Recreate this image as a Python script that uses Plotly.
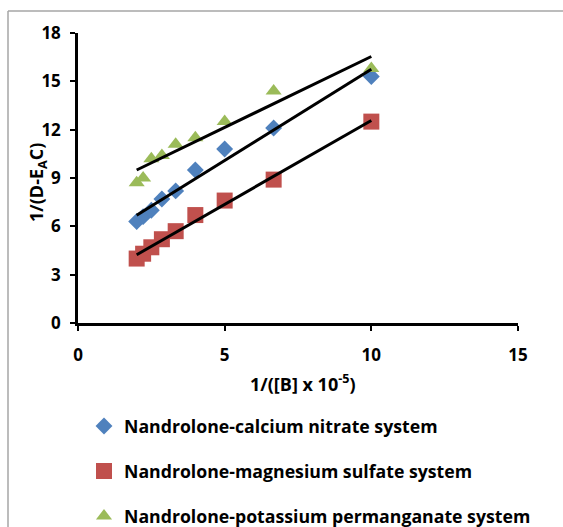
import numpy as np
import plotly.graph_objects as go

x_vals = [2.0, 2.22, 2.5, 2.86, 3.33, 4.0, 5.0, 6.67, 10.0]
calcium = [6.3, 6.6, 7.0, 7.7, 8.2, 9.5, 10.8, 12.1, 15.3]
magnesium = [4.0, 4.3, 4.7, 5.2, 5.7, 6.7, 7.6, 8.9, 12.5]
potassium = [8.7, 9.0, 10.2, 10.4, 11.1, 11.5, 12.5, 14.4, 15.8]
names = ["Nandrolone-calcium nitrate system",
         "Nandrolone-magnesium sulfate system",
         "Nandrolone-potassium permanganate system"]
colors = ["#4F81BD", "#C0504D", "#9BBB59"]
symbols = ["diamond", "square", "triangle-up"]
sizes = [13, 16, 14]
x_ticks = [0, 5, 10, 15]
y_ticks = [0, 3, 6, 9, 12, 15, 18]

FONT = "Open Sans"
fig = go.Figure()
for i, ys in enumerate([calcium, magnesium, potassium]):
    fig.add_trace(go.Scatter(x=x_vals, y=ys, mode="markers", name=names[i],
                             legendgroup=str(i),
                             marker=dict(symbol=symbols[i], size=sizes[i], color=colors[i])))
for i, ys in enumerate([calcium, magnesium, potassium]):
    m, b = np.polyfit(x_vals, ys, 1)
    xl = [min(x_vals), max(x_vals)]
    fig.add_trace(go.Scatter(x=xl, y=[m * v + b for v in xl], mode="lines",
                             line=dict(color="black", width=3), showlegend=False,
                             hoverinfo="skip"))

axis_common = dict(showline=True, linecolor="black", linewidth=2.5, ticks="outside",
                   ticklen=5, tickwidth=1.5, tickcolor="black", showgrid=False,
                   zeroline=False, tickfont=dict(family=FONT, size=17, color="black", weight="bold"))
PW, PH = 440, 290
L, T = 78, 33
fig.update_layout(
    width=563, height=527,
    margin=dict(l=L, r=45, t=T, b=204, autoexpand=False),
    paper_bgcolor="white", plot_bgcolor="white",
    font=dict(family=FONT, color="black"),
    xaxis=dict(range=[0, 15], tickvals=x_ticks, ticklabelstandoff=10, **axis_common),
    yaxis=dict(range=[0, 18], tickvals=y_ticks, ticklabelstandoff=6, **axis_common),
    legend=dict(x=(84 - L) / PW, y=(T + PH - 408) / PH,
                xanchor="left", yanchor="top", tracegroupgap=19,
                font=dict(family=FONT, size=17.7, color="black", weight="bold"),
                bgcolor="rgba(0,0,0,0)"),
    annotations=[
        dict(text="<b>1/([B] x 10<sup>-5</sup>)</b>", xref="paper", yref="paper",
             x=(303 - L) / PW, y=(T + PH - 383) / PH, xanchor="center", yanchor="middle",
             showarrow=False, font=dict(size=18, color="black")),
        dict(text="<b>1/(D-E<sub>A</sub>C)</b>", xref="paper", yref="paper",
             x=(38 - L) / PW, y=(T + PH - 183) / PH, xanchor="center", yanchor="middle",
             textangle=-90, showarrow=False, font=dict(size=18, color="black")),
    ],
    shapes=[
        dict(type="line", xref="paper", yref="paper", x0=(8 - L) / PW, x1=(563 - L) / PW,
             y0=(T + PH - 11) / PH, y1=(T + PH - 11) / PH, line=dict(color="#A6A6A6", width=1.5)),
        dict(type="line", xref="paper", yref="paper", x0=(8 - L) / PW, x1=(8 - L) / PW,
             y0=(T + PH - 11) / PH, y1=(T + PH - 527) / PH, line=dict(color="#A6A6A6", width=1.5)),
    ],
)
fig.write_html("out.html")
